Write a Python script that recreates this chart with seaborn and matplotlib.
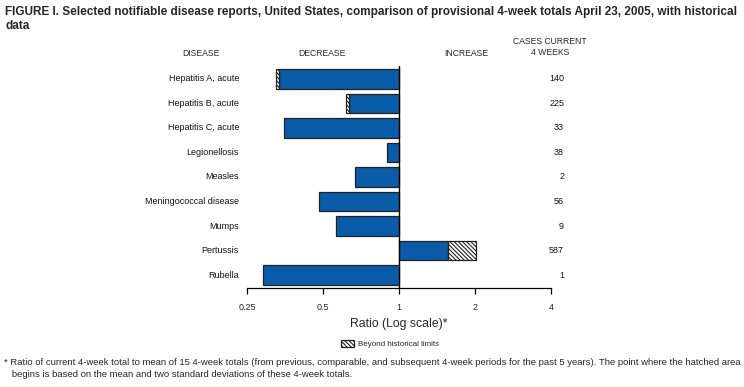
import matplotlib
matplotlib.use("Agg")
import matplotlib.pyplot as plt
from matplotlib import font_manager
import seaborn as sns
import numpy as np

diseases = ["Hepatitis A, acute", "Hepatitis B, acute", "Hepatitis C, acute", "Legionellosis",
            "Measles", "Meningococcal disease", "Mumps", "Pertussis", "Rubella"]
ratios = [0.326, 0.615, 0.351, 0.896, 0.667, 0.484, 0.561, 2.01, 0.289]
# where the hatched part ("beyond historical limits") begins, None if not beyond
hist_limits = [0.335, 0.632, None, None, None, None, None, 1.568, None]
cases = [140, 225, 33, 38, 2, 56, 9, 587, 1]
xticks = [0.25, 0.5, 1, 2, 4]
xticklabels = ["0.25", "0.5", "1", "2", "4"]

blue = "#0a5ca8"
W, H = 744, 387

sns.set_style("white")
names = {f.name for f in font_manager.fontManager.ttflist}
narrow = "Liberation Sans Narrow" if "Liberation Sans Narrow" in names else None
plt.rcParams['font.family'] = ['Liberation Sans', 'DejaVu Sans']
plt.rcParams['hatch.linewidth'] = 0.8

def fx(x):
    return x / W

def fy(y):
    return 1 - y / H

fig = plt.figure(figsize=(W / 100, H / 100), dpi=100)
ax = fig.add_axes([fx(247), fy(288), fx(551) - fx(247), fy(66) - fy(288)])

hatch = "\\" * 8
for i, (r, lim) in enumerate(zip(ratios, hist_limits)):
    solid_end = r if lim is None else lim
    ax.barh(i, solid_end - 1, left=1, height=0.8, color=blue, edgecolor="#222222", linewidth=0.9)
    if lim is not None:
        hb = ax.barh(i, r - lim, left=lim, height=0.8, color="white", edgecolor="#222222",
                     linewidth=0.9, hatch=hatch)

ax.set_xscale("log")
ax.set_xlim(0.25, 4)
ax.set_ylim(len(diseases) - 0.47, -0.53)
ax.axvline(1, color="black", lw=1)
ax.set_xticks(xticks)
ax.set_xticklabels(xticklabels, fontsize=6.5)
ax.xaxis.set_minor_locator(matplotlib.ticker.NullLocator())
ax.set_yticks([])
ax.tick_params(axis="x", direction="out", length=4, width=0.9, pad=7, color="black", bottom=True)
for s in ["top", "left", "right"]:
    ax.spines[s].set_visible(False)
ax.spines["bottom"].set_color("black")
ax.spines["bottom"].set_linewidth(0.9)
ax.set_xlabel("Ratio (Log scale)*", fontsize=8.8, labelpad=4)

# disease names and case counts
for i, (d, c) in enumerate(zip(diseases, cases)):
    ax.text(0.25 * 2 ** (-8 / 75.5), i, d, ha="right", va="center", fontsize=6.5, color="#111111")
    ax.text(4 * 2 ** (13 / 75.5), i, str(c), ha="right", va="center", fontsize=6.5, color="#111111")

# title
if narrow:
    tfont = dict(family=[narrow, 'Liberation Sans'], fontsize=9.2)
    hfont = dict(family=[narrow, 'Liberation Sans'], fontsize=7.3)
    ffont = dict(family=[narrow, 'Liberation Sans'], fontsize=7.5)
else:
    tfont = dict(fontsize=8.5)
    hfont = dict(fontsize=6.2)
    ffont = dict(fontsize=6.8)
fig.text(fx(5), fy(6), "FIGURE I. Selected notifiable disease reports, United States, comparison of provisional 4-week totals April 23, 2005, with historical\ndata",
         ha="left", va="top", fontweight="bold", linespacing=1.25, **tfont)

# column headers
fig.text(fx(201), fy(54), "DISEASE", ha="center", va="center", **hfont)
fig.text(fx(322), fy(54), "DECREASE", ha="center", va="center", **hfont)
fig.text(fx(466), fy(54), "INCREASE", ha="center", va="center", **hfont)
fig.text(fx(550), fy(47), "CASES CURRENT\n4 WEEKS", ha="center", va="center", linespacing=1.3, **hfont)

# legend for hatched part
leg = fig.legend(handles=[hb], labels=["Beyond historical limits"], loc="center left",
                 bbox_to_anchor=(fx(341), fy(344)), frameon=False, fontsize=5.8,
                 handlelength=1.6, handleheight=0.9, handletextpad=0.5, borderpad=0, borderaxespad=0)

# footnote
fig.text(fx(4), fy(358), "* Ratio of current 4-week total to mean of 15 4-week totals (from previous, comparable, and subsequent 4-week periods for the past 5 years). The point where the hatched area\n   begins is based on the mean and two standard deviations of these 4-week totals.",
         ha="left", va="top", linespacing=1.45, **ffont)

fig.savefig("out.png", dpi=100)
